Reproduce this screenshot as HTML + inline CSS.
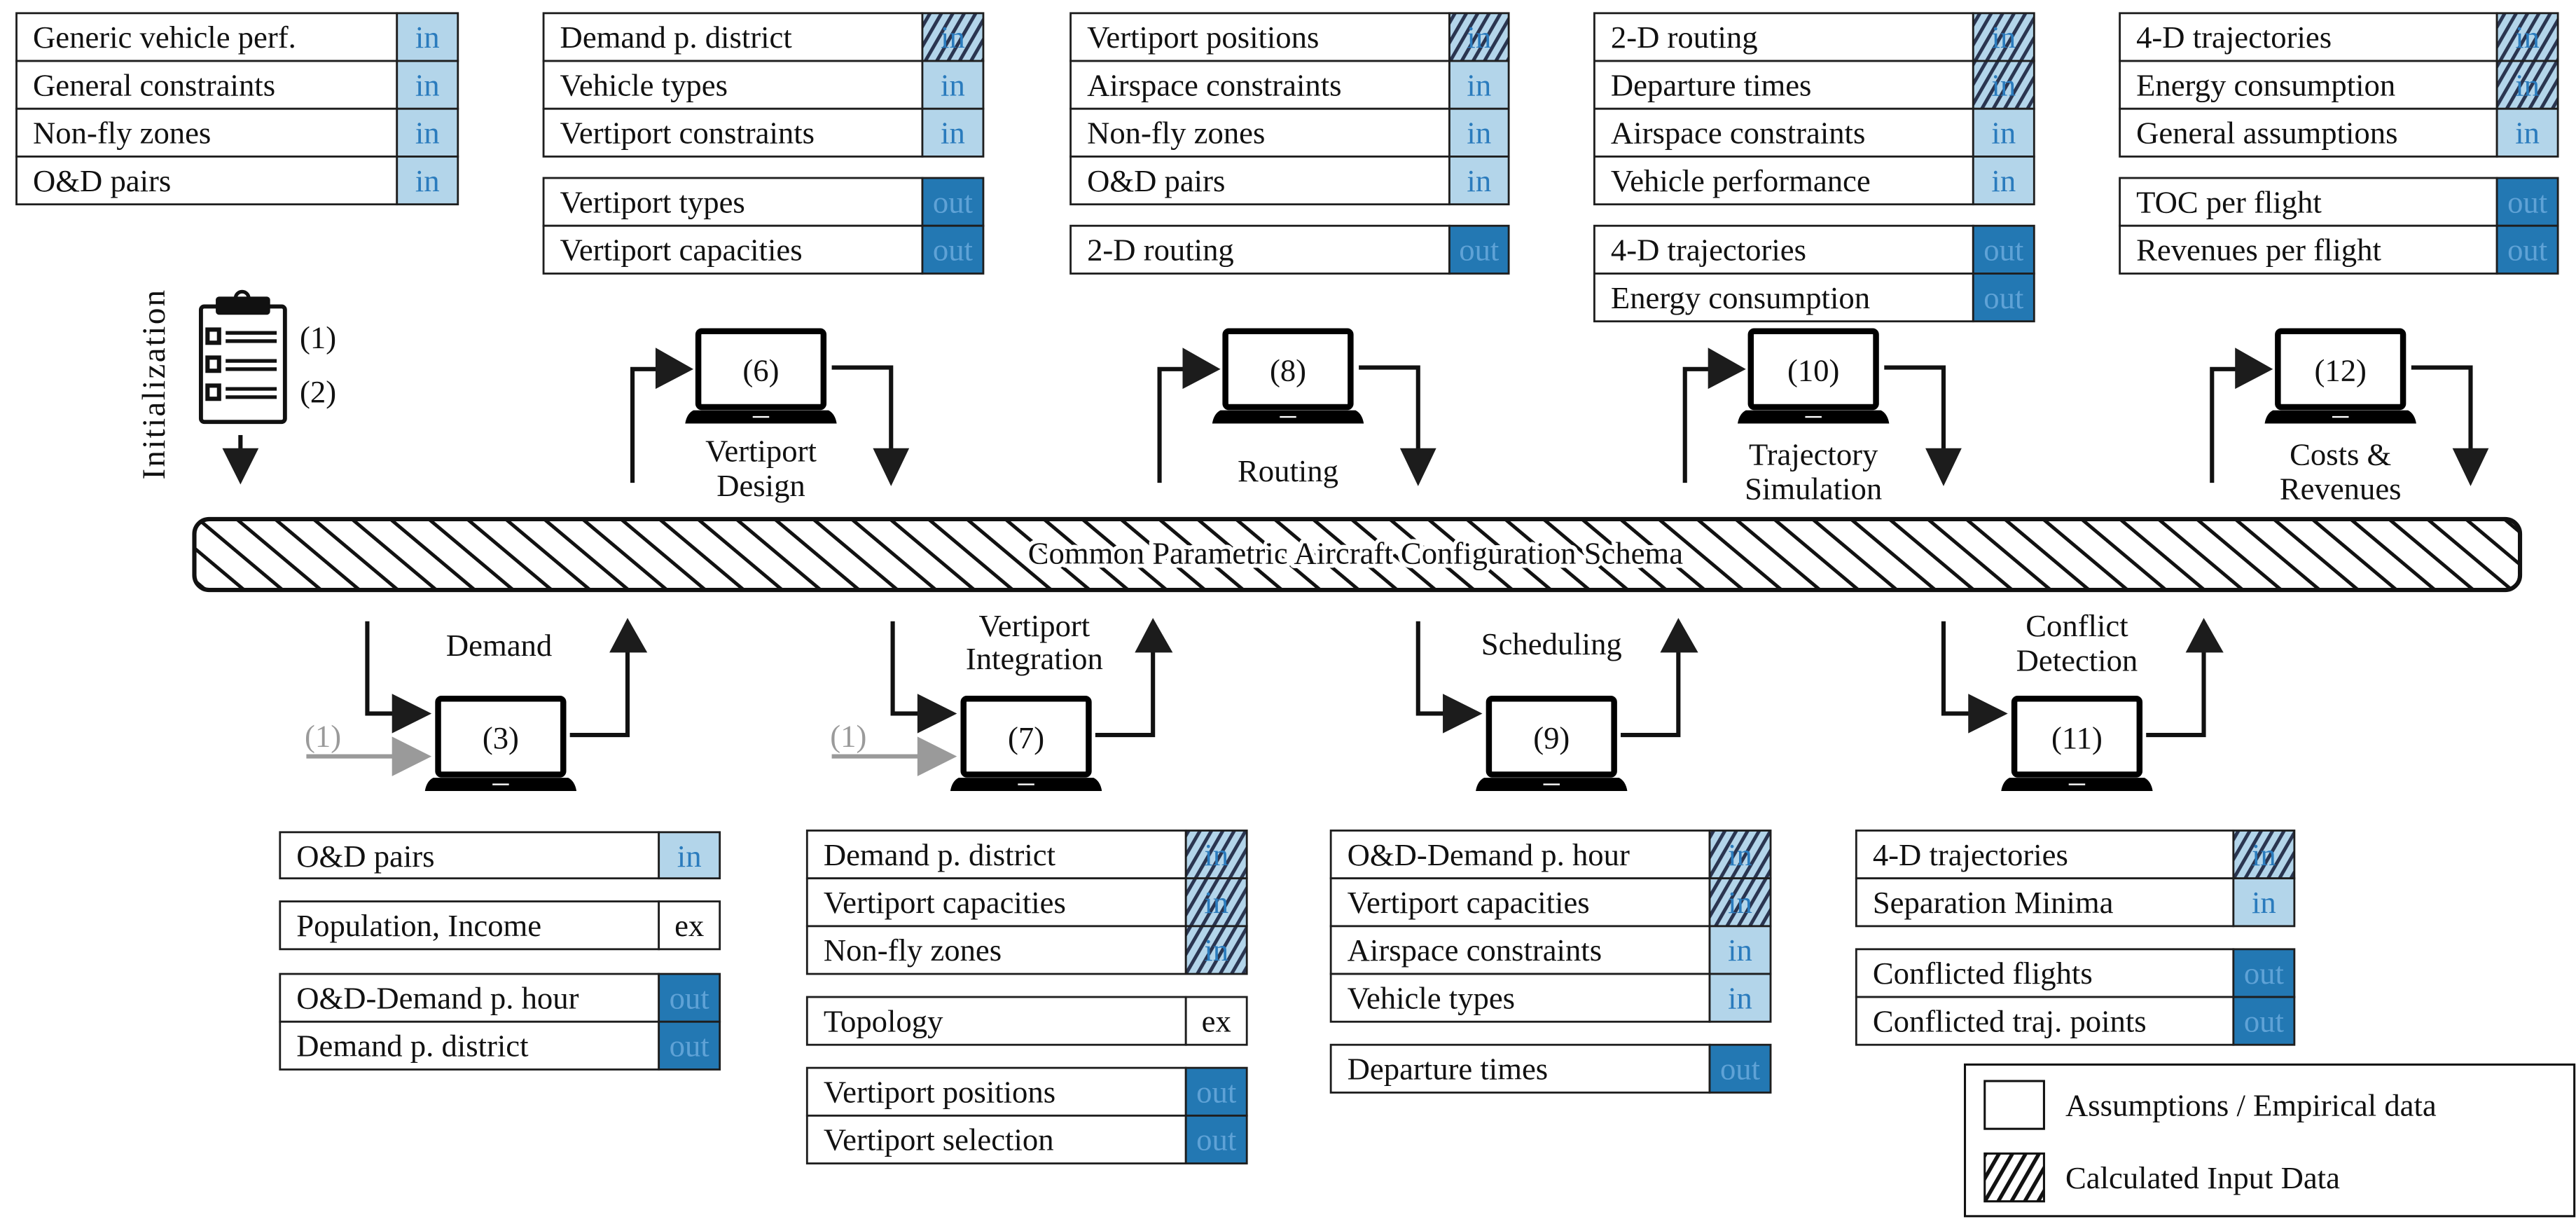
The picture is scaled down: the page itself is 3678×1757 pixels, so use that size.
<!DOCTYPE html>
<html><head><meta charset="utf-8"><style>
html,body{margin:0;padding:0;background:#fff}
svg{display:block}
.c{fill:#fff;stroke:#1e1e1e;stroke-width:1.2}
.in{fill:#b3d5ea;stroke:#1e1e1e;stroke-width:1.2}
.out{fill:#2378b3;stroke:#1e1e1e;stroke-width:1.2}
.h{fill:url(#ch);stroke:#1e1e1e;stroke-width:1.2}
svg text{font-family:"Liberation Serif","DejaVu Serif","Times New Roman",serif;font-size:19px;fill:#111}
.ti{fill:#2a7bbd;text-anchor:middle}
.to{fill:#5fa2d6;text-anchor:middle}
.tx{text-anchor:middle}
.m{text-anchor:middle}
.ln{fill:none;stroke:#111;stroke-width:2.6}
.ah{fill:#1c1c1c}
</style></head><body>
<svg width="3678" height="1757" viewBox="0 0 1564 747" preserveAspectRatio="none" xmlns="http://www.w3.org/2000/svg" font-family="Liberation Serif, DejaVu Serif, serif">
<defs>
<pattern id="ch" patternUnits="userSpaceOnUse" width="6" height="6" patternTransform="rotate(30)">
<rect width="6" height="6" fill="#b3d5ea"/><line x1="1" y1="0" x2="1" y2="6" stroke="#2a3550" stroke-width="2.2"/></pattern>
<pattern id="bh" patternUnits="userSpaceOnUse" width="15" height="15" patternTransform="rotate(-50)">
<rect width="15" height="15" fill="#fff"/><line x1="1" y1="0" x2="1" y2="15" stroke="#111" stroke-width="2.2"/></pattern>
<pattern id="lh" patternUnits="userSpaceOnUse" width="7" height="7" patternTransform="rotate(30)">
<rect width="7" height="7" fill="#fff"/><line x1="1" y1="0" x2="1" y2="7" stroke="#111" stroke-width="2.6"/></pattern>
</defs>

<!-- Table 1 -->
<rect class="c" x="10" y="8" width="231" height="29"/><rect class="in" x="241" y="8" width="37" height="29"/><text x="20" y="29">Generic vehicle perf.</text><text class="ti" x="259.5" y="29">in</text>
<rect class="c" x="10" y="37" width="231" height="29"/><rect class="in" x="241" y="37" width="37" height="29"/><text x="20" y="58">General constraints</text><text class="ti" x="259.5" y="58">in</text>
<rect class="c" x="10" y="66" width="231" height="29"/><rect class="in" x="241" y="66" width="37" height="29"/><text x="20" y="87">Non-fly zones</text><text class="ti" x="259.5" y="87">in</text>
<rect class="c" x="10" y="95" width="231" height="29"/><rect class="in" x="241" y="95" width="37" height="29"/><text x="20" y="116">O&amp;D pairs</text><text class="ti" x="259.5" y="116">in</text>

<!-- Table 2 -->
<rect class="c" x="330" y="8" width="230" height="29"/><rect class="h" x="560" y="8" width="37" height="29"/><text x="340" y="29">Demand p. district</text><text class="ti" x="578.5" y="29">in</text>
<rect class="c" x="330" y="37" width="230" height="29"/><rect class="in" x="560" y="37" width="37" height="29"/><text x="340" y="58">Vehicle types</text><text class="ti" x="578.5" y="58">in</text>
<rect class="c" x="330" y="66" width="230" height="29"/><rect class="in" x="560" y="66" width="37" height="29"/><text x="340" y="87">Vertiport constraints</text><text class="ti" x="578.5" y="87">in</text>
<rect class="c" x="330" y="108" width="230" height="29"/><rect class="out" x="560" y="108" width="37" height="29"/><text x="340" y="129">Vertiport types</text><text class="to" x="578.5" y="129">out</text>
<rect class="c" x="330" y="137" width="230" height="29"/><rect class="out" x="560" y="137" width="37" height="29"/><text x="340" y="158">Vertiport capacities</text><text class="to" x="578.5" y="158">out</text>

<!-- Table 3 -->
<rect class="c" x="650" y="8" width="230" height="29"/><rect class="h" x="880" y="8" width="36" height="29"/><text x="660" y="29">Vertiport positions</text><text class="ti" x="898" y="29">in</text>
<rect class="c" x="650" y="37" width="230" height="29"/><rect class="in" x="880" y="37" width="36" height="29"/><text x="660" y="58">Airspace constraints</text><text class="ti" x="898" y="58">in</text>
<rect class="c" x="650" y="66" width="230" height="29"/><rect class="in" x="880" y="66" width="36" height="29"/><text x="660" y="87">Non-fly zones</text><text class="ti" x="898" y="87">in</text>
<rect class="c" x="650" y="95" width="230" height="29"/><rect class="in" x="880" y="95" width="36" height="29"/><text x="660" y="116">O&amp;D pairs</text><text class="ti" x="898" y="116">in</text>
<rect class="c" x="650" y="137" width="230" height="29"/><rect class="out" x="880" y="137" width="36" height="29"/><text x="660" y="158">2-D routing</text><text class="to" x="898" y="158">out</text>

<!-- Table 4 -->
<rect class="c" x="968" y="8" width="230" height="29"/><rect class="h" x="1198" y="8" width="37" height="29"/><text x="978" y="29">2-D routing</text><text class="ti" x="1216.5" y="29">in</text>
<rect class="c" x="968" y="37" width="230" height="29"/><rect class="h" x="1198" y="37" width="37" height="29"/><text x="978" y="58">Departure times</text><text class="ti" x="1216.5" y="58">in</text>
<rect class="c" x="968" y="66" width="230" height="29"/><rect class="in" x="1198" y="66" width="37" height="29"/><text x="978" y="87">Airspace constraints</text><text class="ti" x="1216.5" y="87">in</text>
<rect class="c" x="968" y="95" width="230" height="29"/><rect class="in" x="1198" y="95" width="37" height="29"/><text x="978" y="116">Vehicle performance</text><text class="ti" x="1216.5" y="116">in</text>
<rect class="c" x="968" y="137" width="230" height="29"/><rect class="out" x="1198" y="137" width="37" height="29"/><text x="978" y="158">4-D trajectories</text><text class="to" x="1216.5" y="158">out</text>
<rect class="c" x="968" y="166" width="230" height="29"/><rect class="out" x="1198" y="166" width="37" height="29"/><text x="978" y="187">Energy consumption</text><text class="to" x="1216.5" y="187">out</text>

<!-- Table 5 -->
<rect class="c" x="1287" y="8" width="229" height="29"/><rect class="h" x="1516" y="8" width="37" height="29"/><text x="1297" y="29">4-D trajectories</text><text class="ti" x="1534.5" y="29">in</text>
<rect class="c" x="1287" y="37" width="229" height="29"/><rect class="h" x="1516" y="37" width="37" height="29"/><text x="1297" y="58">Energy consumption</text><text class="ti" x="1534.5" y="58">in</text>
<rect class="c" x="1287" y="66" width="229" height="29"/><rect class="in" x="1516" y="66" width="37" height="29"/><text x="1297" y="87">General assumptions</text><text class="ti" x="1534.5" y="87">in</text>
<rect class="c" x="1287" y="108" width="229" height="29"/><rect class="out" x="1516" y="108" width="37" height="29"/><text x="1297" y="129">TOC per flight</text><text class="to" x="1534.5" y="129">out</text>
<rect class="c" x="1287" y="137" width="229" height="29"/><rect class="out" x="1516" y="137" width="37" height="29"/><text x="1297" y="158">Revenues per flight</text><text class="to" x="1534.5" y="158">out</text>

<!-- Bottom: Demand -->
<rect class="c" x="170" y="505" width="230" height="28"/><rect class="in" x="400" y="505" width="37" height="28"/><text x="180" y="526">O&amp;D pairs</text><text class="ti" x="418.5" y="526">in</text>
<rect class="c" x="170" y="547" width="230" height="29"/><rect class="c" x="400" y="547" width="37" height="29"/><text x="180" y="568">Population, Income</text><text class="tx" x="418.5" y="568">ex</text>
<rect class="c" x="170" y="591" width="230" height="29"/><rect class="out" x="400" y="591" width="37" height="29"/><text x="180" y="612">O&amp;D-Demand p. hour</text><text class="to" x="418.5" y="612">out</text>
<rect class="c" x="170" y="620" width="230" height="29"/><rect class="out" x="400" y="620" width="37" height="29"/><text x="180" y="641">Demand p. district</text><text class="to" x="418.5" y="641">out</text>

<!-- Bottom: Vertiport Integration -->
<rect class="c" x="490" y="504" width="230" height="29"/><rect class="h" x="720" y="504" width="37" height="29"/><text x="500" y="525">Demand p. district</text><text class="ti" x="738.5" y="525">in</text>
<rect class="c" x="490" y="533" width="230" height="29"/><rect class="h" x="720" y="533" width="37" height="29"/><text x="500" y="554">Vertiport capacities</text><text class="ti" x="738.5" y="554">in</text>
<rect class="c" x="490" y="562" width="230" height="29"/><rect class="h" x="720" y="562" width="37" height="29"/><text x="500" y="583">Non-fly zones</text><text class="ti" x="738.5" y="583">in</text>
<rect class="c" x="490" y="605" width="230" height="29"/><rect class="c" x="720" y="605" width="37" height="29"/><text x="500" y="626">Topology</text><text class="tx" x="738.5" y="626">ex</text>
<rect class="c" x="490" y="648" width="230" height="29"/><rect class="out" x="720" y="648" width="37" height="29"/><text x="500" y="669">Vertiport positions</text><text class="to" x="738.5" y="669">out</text>
<rect class="c" x="490" y="677" width="230" height="29"/><rect class="out" x="720" y="677" width="37" height="29"/><text x="500" y="698">Vertiport selection</text><text class="to" x="738.5" y="698">out</text>

<!-- Bottom: Scheduling -->
<rect class="c" x="808" y="504" width="230" height="29"/><rect class="h" x="1038" y="504" width="37" height="29"/><text x="818" y="525">O&amp;D-Demand p. hour</text><text class="ti" x="1056.5" y="525">in</text>
<rect class="c" x="808" y="533" width="230" height="29"/><rect class="h" x="1038" y="533" width="37" height="29"/><text x="818" y="554">Vertiport capacities</text><text class="ti" x="1056.5" y="554">in</text>
<rect class="c" x="808" y="562" width="230" height="29"/><rect class="in" x="1038" y="562" width="37" height="29"/><text x="818" y="583">Airspace constraints</text><text class="ti" x="1056.5" y="583">in</text>
<rect class="c" x="808" y="591" width="230" height="29"/><rect class="in" x="1038" y="591" width="37" height="29"/><text x="818" y="612">Vehicle types</text><text class="ti" x="1056.5" y="612">in</text>
<rect class="c" x="808" y="634" width="230" height="29"/><rect class="out" x="1038" y="634" width="37" height="29"/><text x="818" y="655">Departure times</text><text class="to" x="1056.5" y="655">out</text>

<!-- Bottom: Conflict Detection -->
<rect class="c" x="1127" y="504" width="229" height="29"/><rect class="h" x="1356" y="504" width="37" height="29"/><text x="1137" y="525">4-D trajectories</text><text class="ti" x="1374.5" y="525">in</text>
<rect class="c" x="1127" y="533" width="229" height="29"/><rect class="in" x="1356" y="533" width="37" height="29"/><text x="1137" y="554">Separation Minima</text><text class="ti" x="1374.5" y="554">in</text>
<rect class="c" x="1127" y="576" width="229" height="29"/><rect class="out" x="1356" y="576" width="37" height="29"/><text x="1137" y="597">Conflicted flights</text><text class="to" x="1374.5" y="597">out</text>
<rect class="c" x="1127" y="605" width="229" height="29"/><rect class="out" x="1356" y="605" width="37" height="29"/><text x="1137" y="626">Conflicted traj. points</text><text class="to" x="1374.5" y="626">out</text>

<!-- Legend -->
<rect x="1193" y="646" width="370" height="92" fill="#fff" stroke="#111" stroke-width="1.3"/>
<rect x="1205" y="656" width="36" height="29" fill="#fff" stroke="#111" stroke-width="1.3"/>
<text x="1254" y="677">Assumptions / Empirical data</text>
<rect x="1205" y="700" width="36" height="29" fill="url(#lh)" stroke="#111" stroke-width="1.3"/>
<text x="1254" y="721">Calculated Input Data</text>

<!-- Schema bar -->
<rect x="118" y="315" width="1412" height="43" rx="9" fill="url(#bh)" stroke="#111" stroke-width="2.6"/>
<text class="m" x="823" y="342" style="stroke:#fff;stroke-width:5;paint-order:stroke;stroke-linejoin:round">Common Parametric Aircraft Configuration Schema</text>

<!-- Initialization -->
<text class="m" x="0" y="0" transform="translate(100,233) rotate(-90)" style="font-size:20px;letter-spacing:1px">Initialization</text>
<rect x="122" y="186" width="51" height="70" rx="2" fill="#fff" stroke="#111" stroke-width="2.5"/>
<rect x="131" y="180" width="33" height="11" rx="2" fill="#111"/>
<path d="M143 181 a4 4 0 0 1 8 0" fill="none" stroke="#111" stroke-width="2.2"/>
<g fill="none" stroke="#111" stroke-width="2.6">
<rect x="126" y="200" width="7" height="8"/><rect x="126" y="217" width="7" height="8"/><rect x="126" y="234" width="7" height="8"/>
</g>
<g stroke="#111" stroke-width="2.2">
<line x1="137" y1="202" x2="168" y2="202"/><line x1="137" y1="207" x2="168" y2="207"/>
<line x1="137" y1="219" x2="168" y2="219"/><line x1="137" y1="224" x2="168" y2="224"/>
<line x1="137" y1="236" x2="168" y2="236"/><line x1="137" y1="241" x2="168" y2="241"/>
</g>
<text x="182" y="211">(1)</text><text x="182" y="244">(2)</text>
<line class="ln" x1="146" y1="264" x2="146" y2="275"/>
<polygon class="ah" points="135,272 157,272 146,294"/>

<!-- Top laptops -->
<g id="lt">
<rect x="424" y="201" width="76" height="46" rx="2" fill="#fff" stroke="#000" stroke-width="3.6"/>
<path d="M421 249 H503 Q507 251 508 257 H416 Q417 251 421 249 Z" fill="#000"/>
<line x1="457" y1="253" x2="467" y2="253" stroke="#fff" stroke-width="1"/>
</g>
<text class="m" x="462" y="231">(6)</text>
<use href="#lt" x="320"/><text class="m" x="782" y="231">(8)</text>
<use href="#lt" x="639"/><text class="m" x="1101" y="231">(10)</text>
<use href="#lt" x="959"/><text class="m" x="1421" y="231">(12)</text>

<!-- Top arrows -->
<g id="ta">
<polyline class="ln" points="384,293 384,224 402,224"/>
<polygon class="ah" points="398,211 421,224 398,236"/>
<polyline class="ln" points="505,223 541,223 541,275"/>
<polygon class="ah" points="530,272 552,272 541,295"/>
</g>
<use href="#ta" x="320"/><use href="#ta" x="639"/><use href="#ta" x="959"/>

<text class="m" x="462" y="280">Vertiport</text><text class="m" x="462" y="301">Design</text>
<text class="m" x="782" y="292">Routing</text>
<text class="m" x="1101" y="282">Trajectory</text><text class="m" x="1101" y="303">Simulation</text>
<text class="m" x="1421" y="282">Costs &amp;</text><text class="m" x="1421" y="303">Revenues</text>

<!-- Bottom laptops -->
<g id="lb">
<rect x="266" y="424" width="76" height="46" rx="2" fill="#fff" stroke="#000" stroke-width="3.6"/>
<path d="M263 472 H345 Q349 474 350 480 H258 Q259 474 263 472 Z" fill="#000"/>
<line x1="299" y1="476" x2="309" y2="476" stroke="#fff" stroke-width="1"/>
</g>
<text class="m" x="304" y="454">(3)</text>
<use href="#lb" x="319"/><text class="m" x="623" y="454">(7)</text>
<use href="#lb" x="638"/><text class="m" x="942" y="454">(9)</text>
<use href="#lb" x="957"/><text class="m" x="1261" y="454">(11)</text>

<!-- Bottom arrows -->
<g id="ba">
<polyline class="ln" points="223,377 223,433 242,433"/>
<polygon class="ah" points="238,421 262,433 238,445"/>
<polyline class="ln" points="346,446 381,446 381,393"/>
<polygon class="ah" points="370,396 393,396 381,375"/>
</g>
<use href="#ba" x="319"/><use href="#ba" x="638"/><use href="#ba" x="957"/>

<g>
<line x1="186" y1="459" x2="242" y2="459" stroke="#9a9a9a" stroke-width="2.6"/>
<polygon points="238,447 262,459 238,471" fill="#9a9a9a"/>
<text x="185" y="453" style="fill:#9a9a9a">(1)</text>
</g>
<g transform="translate(319,0)">
<line x1="186" y1="459" x2="242" y2="459" stroke="#9a9a9a" stroke-width="2.6"/>
<polygon points="238,447 262,459 238,471" fill="#9a9a9a"/>
<text x="185" y="453" style="fill:#9a9a9a">(1)</text>
</g>

<text class="m" x="303" y="398">Demand</text>
<text class="m" x="628" y="386">Vertiport</text><text class="m" x="628" y="406">Integration</text>
<text class="m" x="942" y="397">Scheduling</text>
<text class="m" x="1261" y="386">Conflict</text><text class="m" x="1261" y="407">Detection</text>
</svg>
</body></html>
